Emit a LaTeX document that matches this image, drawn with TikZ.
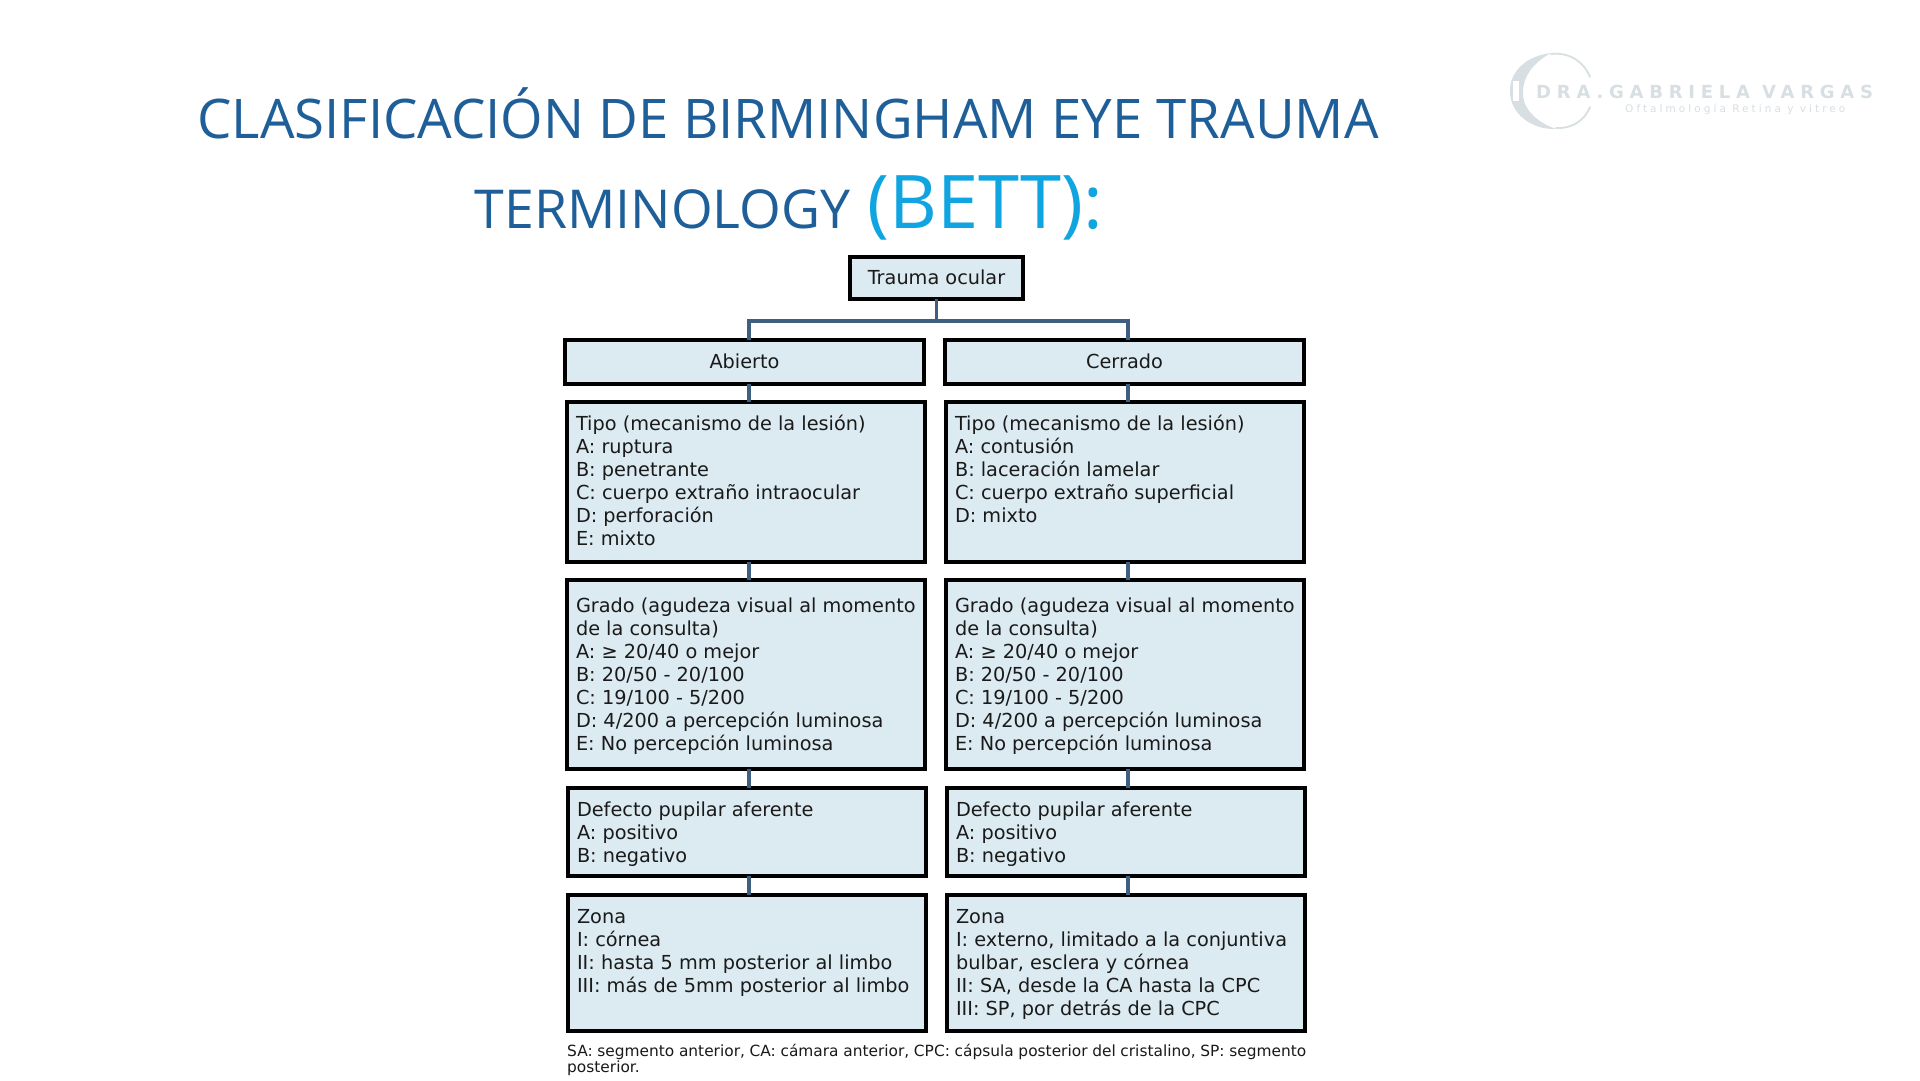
\documentclass[tikz,border=0pt]{standalone}
\usepackage{fontspec}
\setmainfont{DejaVu Sans}
\newfontfamily\titlefont{Open Sans}
\newfontfamily\logofont[LetterSpace=32]{DejaVu Sans}
\newfontfamily\logosub[LetterSpace=29]{DejaVu Sans}
\definecolor{boxfill}{HTML}{DCEBF2}
\definecolor{linkcol}{HTML}{3F5F80}
\definecolor{titleblue}{HTML}{1F5F99}
\definecolor{bettblue}{HTML}{10A5E0}
\definecolor{logogray}{HTML}{D8DFE3}
\definecolor{bodyink}{HTML}{1A1A1A}
\newcommand\bodytxt[4]{\parbox[c][#2pt][t]{#1pt}{\fontsize{19.3}{23}\selectfont\leftskip=9pt\parindent=0pt\rightskip=0pt plus 1fil\rule{0pt}{#3pt}#4}}
\tikzset{
  x=1pt,y=-1pt,
  tbox/.style={draw=black,line width=3.6pt,fill=boxfill,inner sep=0pt,outer sep=0pt,anchor=north west,text=bodyink},
  link/.style={draw=linkcol,line width=3.6pt},
  titleline/.style={inner sep=0pt,anchor=base,text=titleblue},
  logoarc/.style={draw=logogray,line cap=round},
}
\begin{document}
\begin{tikzpicture}
\useasboundingbox (0,0) rectangle (1920,1080);
\fill[white] (0,0) rectangle (1920,1080);
% title
\node[titleline] (t1) at (788,138) {\titlefont\fontsize{54.6}{60}\selectfont CLASIFICACIÓN DE BIRMINGHAM EYE TRAUMA};
\node[titleline] (t2) at (789,228) {\titlefont\fontsize{53.6}{60}\selectfont TERMINOLOGY\hspace{3pt} \textcolor{bettblue}{\fontsize{74}{90}\selectfont (BETT):}};
% logo
\fill[logogray] (1551,53) .. controls (1524,56) and (1509,74) .. (1510,92) .. controls (1510,112) and (1530,130) .. (1556,129) .. controls (1536,122) and (1522,108) .. (1523,92) .. controls (1523,76) and (1534,62) .. (1551,53) -- cycle;
\draw[logoarc,line width=1.8pt] (1551,54) .. controls (1570,52) and (1584,62) .. (1590,77);
\draw[logoarc,line width=1.8pt] (1556,128) .. controls (1572,129) and (1585,120) .. (1590,107);
\fill[white] (1513,81) rectangle (1519,101);
\node[inner sep=0pt,anchor=base west,text=logogray] (logoname) at (1536,98) {\logofont\bfseries\fontsize{18}{20}\selectfont DRA.GABRIELA VARGAS};
\node[inner sep=0pt,anchor=base west,text=logogray] (logosub) at (1625,112) {\logosub\fontsize{10.5}{12}\selectfont Oftalmología Retina y vitreo};
% column guides for the off-centre connectors
\coordinate (colL) at (749,0);
\coordinate (colR) at (1128,0);
% boxes
\node[tbox,minimum width=173pt,minimum height=42pt,align=center] (trauma) at (850,257) {\raisebox{2.5pt}{\fontsize{19.3}{23}\selectfont Trauma ocular}};
\node[tbox,minimum width=359pt,minimum height=44pt,align=center] (abierto) at (565,340) {\raisebox{1pt}{\fontsize{19.3}{23}\selectfont Abierto}};
\node[tbox,minimum width=359pt,minimum height=44pt,align=center] (cerrado) at (945,340) {\raisebox{1pt}{\fontsize{19.3}{23}\selectfont Cerrado}};

\node[tbox] (tipoA) at (567,402) {\bodytxt{358}{160}{28}{Tipo (mecanismo de la lesión)\\A: ruptura\\B: penetrante\\C: cuerpo extraño intraocular\\D: perforación\\E: mixto}};
\node[tbox] (tipoC) at (946,402) {\bodytxt{358}{160}{28}{Tipo (mecanismo de la lesión)\\A: contusión\\B: laceración lamelar\\C: cuerpo extraño superficial\\D: mixto}};

\node[tbox] (gradoA) at (567,580) {\bodytxt{358}{189}{32.5}{Grado (agudeza visual al momento\\de la consulta)\\A: ≥ 20/40 o mejor\\B: 20/50 - 20/100\\C: 19/100 - 5/200\\D: 4/200 a percepción luminosa\\E: No percepción luminosa}};
\node[tbox] (gradoC) at (946,580) {\bodytxt{358}{189}{32.5}{Grado (agudeza visual al momento\\de la consulta)\\A: ≥ 20/40 o mejor\\B: 20/50 - 20/100\\C: 19/100 - 5/200\\D: 4/200 a percepción luminosa\\E: No percepción luminosa}};

\node[tbox] (defA) at (568,788) {\bodytxt{358}{88}{28}{Defecto pupilar aferente\\A: positivo\\B: negativo}};
\node[tbox] (defC) at (947,788) {\bodytxt{358}{88}{28}{Defecto pupilar aferente\\A: positivo\\B: negativo}};

\node[tbox] (zonaA) at (568,895) {\bodytxt{358}{136}{28.5}{Zona\\I: córnea\\II: hasta 5 mm posterior al limbo\\III: más de 5mm posterior al limbo}};
\node[tbox] (zonaC) at (947,895) {\bodytxt{358}{136}{28.5}{Zona\\I: externo, limitado a la conjuntiva\\bulbar, esclera y córnea\\II: SA, desde la CA hasta la CPC\\III: SP, por detrás de la CPC}};
% connectors
\draw[link] (trauma.south) -- ++(0,22) coordinate (fork);
\draw[link] (abierto.north -| colL) |- (fork) -| (cerrado.north -| colR);
\foreach \a/\b in {abierto/tipoA,tipoA/gradoA,gradoA/defA,defA/zonaA}
  \draw[link] (\a.south -| colL) -- (\b.north -| colL);
\foreach \a/\b in {cerrado/tipoC,tipoC/gradoC,gradoC/defC,defC/zonaC}
  \draw[link] (\a.south -| colR) -- (\b.north -| colR);
% footnote
\node[inner sep=0pt,anchor=north west,text width=739pt,align=justify,text=bodyink] (note) at (567,1044) {\fontsize{15.4}{16.5}\selectfont\hyphenpenalty=10000\tolerance=10000 SA: segmento anterior, CA: cámara anterior, CPC: cápsula posterior del cristalino, SP: segmento posterior.};
\end{tikzpicture}
\end{document}
